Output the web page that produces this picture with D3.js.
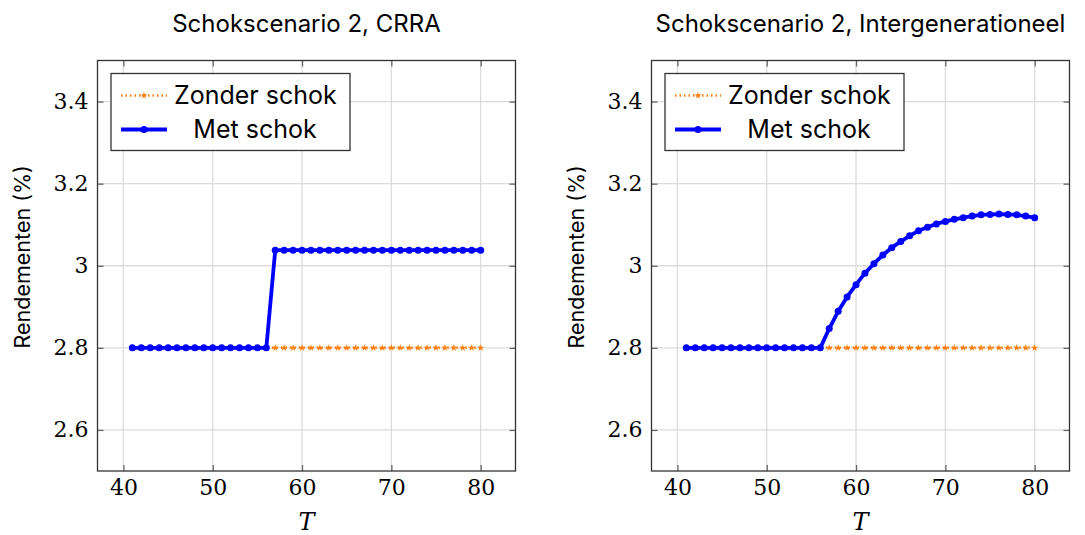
<!DOCTYPE html>
<html>
<head>
<meta charset="utf-8">
<script src="https://cdn.jsdelivr.net/npm/d3@7"></script>
<style>
  body { margin: 0; background: #fff; }
  svg text { fill: #000; }
  .serif { font-family: "DejaVu Serif", "Liberation Serif", serif; }
</style>
</head>
<body>
<svg id="main"></svg>
<script>
const width = 1085;
const height = 535;

// data
const years = d3.range(41, 81);
const zonderSchok = years.map(() => 2.8);
const metSchokCRRA = [
    2.8, 2.8, 2.8, 2.8, 2.8, 2.8, 2.8, 2.8, 2.8, 2.8, 2.8, 2.8, 2.8, 2.8, 2.8, 2.8,
    3.038, 3.038, 3.038, 3.038, 3.038, 3.038, 3.038, 3.038, 3.038, 3.038, 3.038, 3.038,
    3.038, 3.038, 3.038, 3.038, 3.038, 3.038, 3.038, 3.038, 3.038, 3.038, 3.038, 3.038
];
const metSchokIntergen = [
    2.8, 2.8, 2.8, 2.8, 2.8, 2.8, 2.8, 2.8, 2.8, 2.8, 2.8, 2.8, 2.8, 2.8, 2.8, 2.8,
    2.847, 2.889, 2.924, 2.954, 2.982, 3.005, 3.026, 3.044, 3.059, 3.073, 3.085, 3.094,
    3.102, 3.108, 3.113, 3.117, 3.121, 3.124, 3.125, 3.126, 3.125, 3.124, 3.121, 3.117
];
const xTicks = [40, 50, 60, 70, 80];
const yTicks = [2.6, 2.8, 3, 3.2, 3.4];
const titles = ['Schokscenario 2, CRRA', 'Schokscenario 2, Intergenerationeel'];
const legendLabels = ['Zonder schok', 'Met schok'];

const panels = [
    { title: titles[0], met: metSchokCRRA, left: 97.5 },
    { title: titles[1], met: metSchokIntergen, left: 651.5 }
];
const plotW = 418;
const plotTop = 60.5;
const plotH = 410.5;

const sansFont = 'Inter, "Noto Sans", sans-serif';

const mainSvg = d3.select('#main').attr('width', width).attr('height', height);

panels.forEach(p => {
    const g = mainSvg.append('g').attr('transform', `translate(${p.left}, ${plotTop})`);
    const xScale = d3.scaleLinear().domain([37.1, 83.9]).range([0, plotW]);
    const yScale = d3.scaleLinear().domain([2.5, 3.5]).range([plotH, 0]);

    // grid
    g.append('g').selectAll('line').data(xTicks).join('line')
        .attr('x1', d => xScale(d)).attr('x2', d => xScale(d))
        .attr('y1', 0).attr('y2', plotH)
        .attr('stroke', '#dcdcdc').attr('stroke-width', 1.3);
    g.append('g').selectAll('line').data(yTicks).join('line')
        .attr('x1', 0).attr('x2', plotW)
        .attr('y1', d => yScale(d)).attr('y2', d => yScale(d))
        .attr('stroke', '#dcdcdc').attr('stroke-width', 1.3);

    // axes (inward ticks on all sides)
    const fmt = d => String(d);
    const axB = g.append('g').attr('transform', `translate(0,${plotH})`)
        .call(d3.axisBottom(xScale).tickValues(xTicks).tickSize(-6).tickPadding(8).tickFormat(fmt));
    const axT = g.append('g')
        .call(d3.axisTop(xScale).tickValues(xTicks).tickSize(-6).tickFormat(''));
    const axL = g.append('g')
        .call(d3.axisLeft(yScale).tickValues(yTicks).tickSize(-6).tickPadding(9).tickFormat(fmt));
    const axR = g.append('g').attr('transform', `translate(${plotW},0)`)
        .call(d3.axisRight(yScale).tickValues(yTicks).tickSize(-6).tickFormat(''));
    [axB, axT, axL, axR].forEach(ax => {
        ax.select('.domain').remove();
        ax.attr('font-family', null).attr('font-size', null);
        ax.selectAll('.tick line').attr('stroke', '#666').attr('stroke-width', 1.3);
        ax.selectAll('.tick text')
            .attr('class', 'serif').attr('font-size', 22).attr('fill', '#000');
    });

    g.append('rect').attr('width', plotW).attr('height', plotH)
        .attr('fill', 'none').attr('stroke', '#333').attr('stroke-width', 1.3);

    // series
    const line = d3.line().x(d => xScale(d[0])).y(d => yScale(d[1]));
    const zonder = years.map((t, i) => [t, zonderSchok[i]]);
    const met = years.map((t, i) => [t, p.met[i]]);

    g.append('path').datum(zonder).attr('d', line)
        .attr('fill', 'none').attr('stroke', '#ff7f0e').attr('stroke-width', 2.5)
        .attr('stroke-dasharray', '1.5,3');
    const star = d3.symbol().type(d3.symbolStar).size(16);
    g.append('g').selectAll('path').data(zonder).join('path')
        .attr('d', star)
        .attr('transform', d => `translate(${xScale(d[0])},${yScale(d[1])})`)
        .attr('fill', '#ff7f0e');

    g.append('path').datum(met).attr('d', line)
        .attr('fill', 'none').attr('stroke', '#0000ff').attr('stroke-width', 3.8)
        .attr('stroke-linejoin', 'round');
    g.append('g').selectAll('circle').data(met).join('circle')
        .attr('cx', d => xScale(d[0])).attr('cy', d => yScale(d[1]))
        .attr('r', 3.5).attr('fill', '#0000ff');

    // legend
    const lg = g.append('g').attr('transform', 'translate(13.5, 13)');
    lg.append('rect').attr('width', 239).attr('height', 77)
        .attr('fill', '#fff').attr('stroke', '#333').attr('stroke-width', 1.3);
    lg.append('line').attr('x1', 10).attr('x2', 56).attr('y1', 22).attr('y2', 22)
        .attr('stroke', '#ff7f0e').attr('stroke-width', 2.5).attr('stroke-dasharray', '1.5,3');
    lg.append('path').attr('d', star).attr('transform', 'translate(33,22)').attr('fill', '#ff7f0e');
    lg.append('line').attr('x1', 10).attr('x2', 56).attr('y1', 56).attr('y2', 56)
        .attr('stroke', '#0000ff').attr('stroke-width', 3.8);
    lg.append('circle').attr('cx', 33).attr('cy', 56).attr('r', 3.5).attr('fill', '#0000ff');
    lg.append('text').attr('x', 63).attr('y', 22).attr('dy', '0.35em')
        .attr('font-family', sansFont).attr('font-size', 25).text(legendLabels[0]);
    lg.append('text').attr('x', 144).attr('y', 56).attr('dy', '0.35em')
        .attr('text-anchor', 'middle')
        .attr('font-family', sansFont).attr('font-size', 25).text(legendLabels[1]);

    // titles and labels
    g.append('text').attr('x', plotW / 2).attr('y', -28.5)
        .attr('text-anchor', 'middle').attr('font-family', sansFont).attr('font-size', 24)
        .text(p.title);
    g.append('text').attr('class', 'serif').attr('x', plotW / 2).attr('y', 469)
        .attr('text-anchor', 'middle').attr('font-style', 'italic')
        .attr('font-size', 24).text('T');
    g.append('text').attr('transform', `translate(-68,${plotH / 2 - 9}) rotate(-90)`)
        .attr('text-anchor', 'middle').attr('font-family', sansFont).attr('font-size', 21.5)
        .text('Rendementen (%)');
});
</script>
</body>
</html>
